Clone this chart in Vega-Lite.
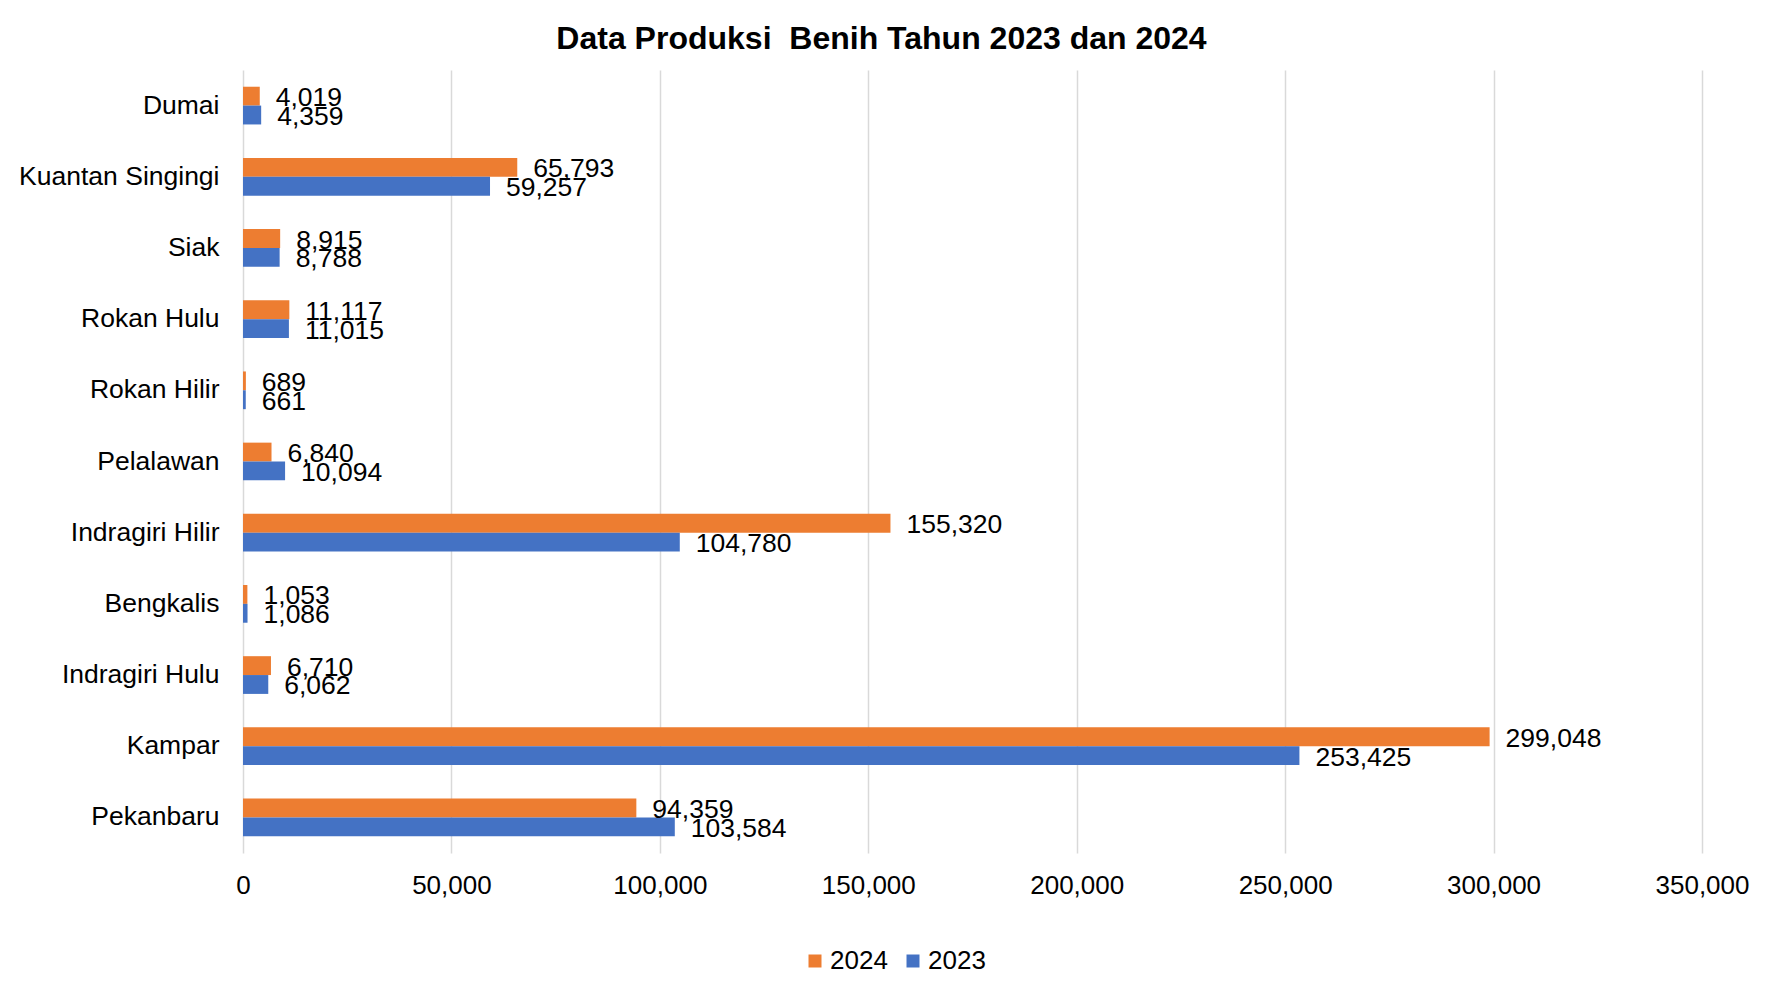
{
  "$schema": "https://vega.github.io/schema/vega-lite/v6.json",
  "autosize": {"type": "none"},
  "padding": {"left": 243, "top": 70, "right": 76, "bottom": 149},
  "width": 1459,
  "height": 783,
  "background": "white",
  "title": {
    "text": "Data Produksi \u00a0Benih Tahun 2023 dan 2024",
    "font": "Liberation Sans",
    "fontSize": 32,
    "fontWeight": "bold",
    "color": "#000000",
    "anchor": "middle",
    "dx": -91,
    "offset": 14
  },
  "data": {
    "values": [
      {"Wilayah": "Dumai", "Tahun": "2024", "Nilai": 4019},
      {"Wilayah": "Dumai", "Tahun": "2023", "Nilai": 4359},
      {"Wilayah": "Kuantan Singingi", "Tahun": "2024", "Nilai": 65793},
      {"Wilayah": "Kuantan Singingi", "Tahun": "2023", "Nilai": 59257},
      {"Wilayah": "Siak", "Tahun": "2024", "Nilai": 8915},
      {"Wilayah": "Siak", "Tahun": "2023", "Nilai": 8788},
      {"Wilayah": "Rokan Hulu", "Tahun": "2024", "Nilai": 11117},
      {"Wilayah": "Rokan Hulu", "Tahun": "2023", "Nilai": 11015},
      {"Wilayah": "Rokan Hilir", "Tahun": "2024", "Nilai": 689},
      {"Wilayah": "Rokan Hilir", "Tahun": "2023", "Nilai": 661},
      {"Wilayah": "Pelalawan", "Tahun": "2024", "Nilai": 6840},
      {"Wilayah": "Pelalawan", "Tahun": "2023", "Nilai": 10094},
      {"Wilayah": "Indragiri Hilir", "Tahun": "2024", "Nilai": 155320},
      {"Wilayah": "Indragiri Hilir", "Tahun": "2023", "Nilai": 104780},
      {"Wilayah": "Bengkalis", "Tahun": "2024", "Nilai": 1053},
      {"Wilayah": "Bengkalis", "Tahun": "2023", "Nilai": 1086},
      {"Wilayah": "Indragiri Hulu", "Tahun": "2024", "Nilai": 6710},
      {"Wilayah": "Indragiri Hulu", "Tahun": "2023", "Nilai": 6062},
      {"Wilayah": "Kampar", "Tahun": "2024", "Nilai": 299048},
      {"Wilayah": "Kampar", "Tahun": "2023", "Nilai": 253425},
      {"Wilayah": "Pekanbaru", "Tahun": "2024", "Nilai": 94359},
      {"Wilayah": "Pekanbaru", "Tahun": "2023", "Nilai": 103584}
    ]
  },
  "encoding": {
    "y": {
      "field": "Wilayah",
      "type": "nominal",
      "sort": ["Dumai", "Kuantan Singingi", "Siak", "Rokan Hulu", "Rokan Hilir", "Pelalawan", "Indragiri Hilir", "Bengkalis", "Indragiri Hulu", "Kampar", "Pekanbaru"],
      "scale": {"paddingInner": 0.47, "paddingOuter": 0.235},
      "axis": {
        "title": null,
        "domain": false,
        "ticks": false,
        "labelFont": "Liberation Sans",
        "labelFontSize": 26.5,
        "labelColor": "#000000",
        "labelPadding": 24,
        "labelLimit": 400
      }
    },
    "yOffset": {"field": "Tahun", "type": "nominal", "sort": ["2024", "2023"]},
    "x": {
      "field": "Nilai",
      "type": "quantitative",
      "scale": {"domain": [0, 350000], "nice": false},
      "axis": {
        "title": null,
        "values": [0, 50000, 100000, 150000, 200000, 250000, 300000, 350000],
        "labelExpr": "format(datum.value, ',')",
        "domain": false,
        "ticks": false,
        "grid": true,
        "gridColor": "#D9D9D9",
        "gridWidth": 1.5,
        "labelFont": "Liberation Sans",
        "labelFontSize": 26,
        "labelColor": "#000000",
        "labelPadding": 19,
        "labelFlush": false
      }
    }
  },
  "layer": [
    {
      "mark": {"type": "bar"},
      "encoding": {
        "color": {
          "field": "Tahun",
          "type": "nominal",
          "scale": {"domain": ["2024", "2023"], "range": ["#ED7D31", "#4472C4"]},
          "legend": {
            "title": null,
            "orient": "none",
            "direction": "horizontal",
            "legendX": 559,
            "legendY": 878,
            "symbolType": "square",
            "symbolSize": 169,
            "symbolStrokeWidth": 0,
            "labelFont": "Liberation Sans",
            "labelFontSize": 26,
            "labelColor": "#000000",
            "labelOffset": 2,
            "columnPadding": 12
          }
        }
      }
    },
    {
      "mark": {
        "type": "text",
        "align": "left",
        "baseline": "middle",
        "dx": 16,
        "dy": 2,
        "font": "Liberation Sans",
        "fontSize": 26.5,
        "color": "#000000"
      },
      "encoding": {
        "text": {"field": "Nilai", "type": "quantitative", "format": ","}
      }
    }
  ],
  "config": {
    "view": {"stroke": null}
  }
}
